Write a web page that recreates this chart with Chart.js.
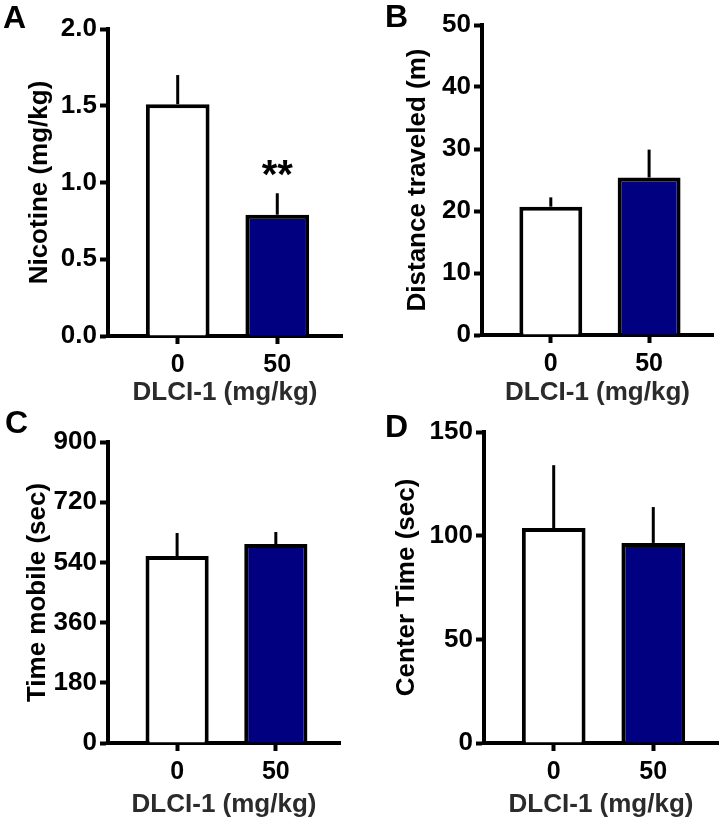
<!DOCTYPE html>
<html>
<head>
<meta charset="utf-8">
<script src="https://cdn.jsdelivr.net/npm/chart.js@4.4.1/dist/chart.umd.min.js"></script>
<style>
  html, body { margin: 0; padding: 0; background: #fff; }
  #wrap { position: relative; width: 721px; height: 822px; }
  canvas { position: absolute; }
</style>
</head>
<body>
<div id="wrap">
  <canvas id="cA" width="360" height="410" style="left:0;top:0"></canvas>
  <canvas id="cB" width="361" height="410" style="left:360px;top:0"></canvas>
  <canvas id="cC" width="360" height="412" style="left:0;top:410px"></canvas>
  <canvas id="cD" width="361" height="412" style="left:360px;top:410px"></canvas>
</div>
<script>
const categories = ['0', '50'];
const xTitle = 'DLCI-1 (mg/kg)';

const nicotineMean = [1.51, 0.79];
const nicotineSem = [0.19, 0.14];
const nicotineTicks = [0, 0.5, 1.0, 1.5, 2.0];
const nicotineStars = ['', '**'];

const distanceMean = [20.7, 25.4];
const distanceSem = [1.5, 4.5];
const distanceTicks = [0, 10, 20, 30, 40, 50];

const mobileMean = [559, 595];
const mobileSem = [69, 36];
const mobileTicks = [0, 180, 360, 540, 720, 900];

const centerMean = [103.7, 96.5];
const centerSem = [30.3, 17.3];
const centerTicks = [0, 50, 100, 150];

const BAR_COLORS = ['#ffffff', '#000080'];
const FONT = '"Liberation Sans", Arial, Helvetica, sans-serif';

// error bars (upper only), significance stars, panel letter
const semPlugin = {
    id: 'semBars',
    afterDatasetsDraw(chart, args, opts) {
        const { ctx } = chart;
        const x = chart.scales.x;
        const y = chart.scales.y;
        ctx.save();
        ctx.strokeStyle = '#000';
        ctx.lineWidth = 3;
        opts.means.forEach((m, i) => {
            const px = x.getPixelForValue(i);
            ctx.beginPath();
            ctx.moveTo(px, y.getPixelForValue(m));
            ctx.lineTo(px, y.getPixelForValue(m + opts.sem[i]));
            ctx.stroke();
        });
        if (opts.stars) {
            ctx.fillStyle = '#000';
            ctx.font = 'bold 40px ' + FONT;
            ctx.textAlign = 'center';
            ctx.textBaseline = 'alphabetic';
            opts.stars.forEach((s, i) => {
                if (!s) return;
                const px = x.getPixelForValue(i);
                ctx.fillText(s, px, y.getPixelForValue(opts.means[i] + opts.sem[i]) - 5);
            });
        }
        ctx.fillStyle = '#000';
        ctx.font = 'bold 32px ' + FONT;
        ctx.textAlign = 'left';
        ctx.textBaseline = 'alphabetic';
        ctx.fillText(opts.letter, opts.letterPos[0], opts.letterPos[1]);
        ctx.restore();
    }
};

const panels = [
    { canvas: 'cA', letter: 'A', letterPos: [3, 28], yTitle: 'Nicotine (mg/kg)',
      means: nicotineMean, sem: nicotineSem, ticks: nicotineTicks, decimals: 1, stars: nicotineStars,
      area: { left: 108, right: 342, top: 29, bottom: 336 }, titlePad: 24 },
    { canvas: 'cB', letter: 'B', letterPos: [25, 27], yTitle: 'Distance traveled (m)',
      means: distanceMean, sem: distanceSem, ticks: distanceTicks, decimals: 0,
      area: { left: 122, right: 353, top: 25, bottom: 335 }, titlePad: 42 },
    { canvas: 'cC', letter: 'C', letterPos: [5, 23], yTitle: 'Time mobile (sec)',
      means: mobileMean, sem: mobileSem, ticks: mobileTicks, decimals: 0,
      area: { left: 108, right: 340, top: 32, bottom: 333 }, titlePad: 22 },
    { canvas: 'cD', letter: 'D', letterPos: [25, 27], yTitle: 'Center Time (sec)',
      means: centerMean, sem: centerSem, ticks: centerTicks, decimals: 0,
      area: { left: 124, right: 358, top: 22, bottom: 333 }, titlePad: 31 }
];

function drawPanel(p) {
    const canvas = document.getElementById(p.canvas);
    const W = canvas.width;
    const H = canvas.height;

    new Chart(canvas, {
        type: 'bar',
        data: {
            datasets: [{
                data: p.means.map((m, i) => ({ x: i, y: m })),
                backgroundColor: BAR_COLORS,
                borderColor: '#000',
                borderWidth: 4,
                barPercentage: 0.64,
                categoryPercentage: 1
            }]
        },
        options: {
            responsive: false,
            animation: false,
            devicePixelRatio: 1,
            layout: {
                padding: { left: 0, top: p.area.top, right: W - p.area.right, bottom: 0 }
            },
            scales: {
                x: {
                    type: 'linear',
                    offset: false,
                    min: -0.7,
                    max: 1.65,
                    afterBuildTicks: (scale) => {
                        scale.ticks = categories.map((c, i) => ({ value: i }));
                    },
                    afterFit: (scale) => { scale.height = H - p.area.bottom; },
                    grid: {
                        offset: false,
                        drawOnChartArea: false,
                        tickLength: 8,
                        tickWidth: 4,
                        tickColor: '#000'
                    },
                    border: { color: '#000', width: 4 },
                    ticks: {
                        autoSkip: false,
                        maxRotation: 0,
                        padding: 6,
                        color: '#000',
                        font: { family: FONT, size: 25, weight: 'bold' },
                        callback: (v) => categories[v]
                    },
                    title: {
                        display: true,
                        text: xTitle,
                        color: '#2b2b2b',
                        padding: { top: 0, bottom: 2 },
                        font: { family: FONT, size: 26, weight: 'bold' }
                    }
                },
                y: {
                    min: p.ticks[0],
                    max: p.ticks[p.ticks.length - 1],
                    afterBuildTicks: (scale) => {
                        scale.ticks = p.ticks.map(v => ({ value: v }));
                    },
                    afterFit: (scale) => { scale.width = p.area.left; },
                    grid: {
                        drawOnChartArea: false,
                        tickLength: 8,
                        tickWidth: 4,
                        tickColor: '#000'
                    },
                    border: { color: '#000', width: 4 },
                    ticks: {
                        padding: 3,
                        color: '#000',
                        font: { family: FONT, size: 26, weight: 'bold' },
                        callback: (v) => Number(v).toFixed(p.decimals)
                    },
                    title: {
                        display: true,
                        text: p.yTitle,
                        color: '#000',
                        padding: { top: p.titlePad, bottom: 0 },
                        font: { family: FONT, size: 26, weight: 'bold' }
                    }
                }
            },
            plugins: {
                legend: { display: false },
                tooltip: { enabled: false },
                semBars: {
                    means: p.means,
                    sem: p.sem,
                    stars: p.stars,
                    letter: p.letter,
                    letterPos: p.letterPos
                }
            }
        },
        plugins: [semPlugin]
    });
}

panels.forEach(drawPanel);
</script>
</body>
</html>
